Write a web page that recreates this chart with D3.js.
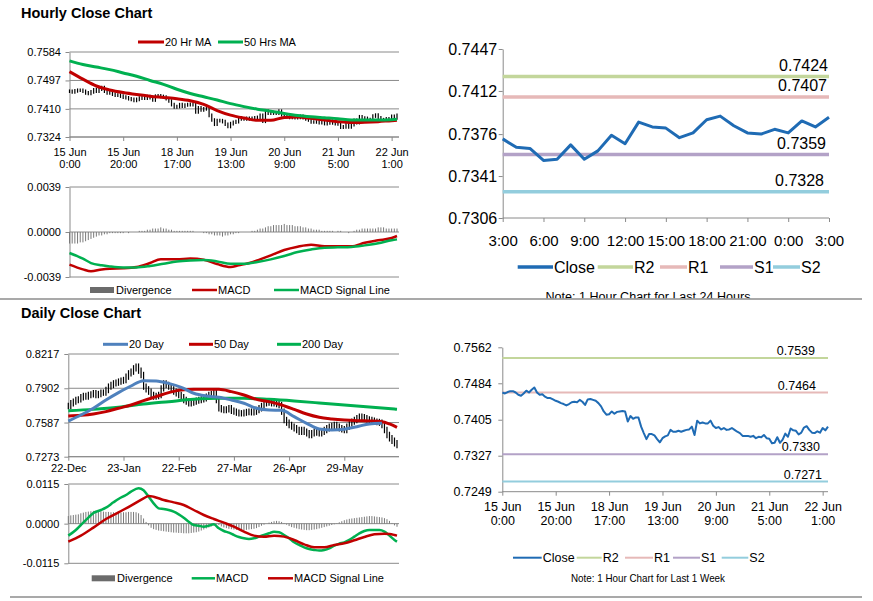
<!DOCTYPE html>
<html><head><meta charset="utf-8">
<script src="https://cdn.jsdelivr.net/npm/d3@7"></script>
<style>
body{margin:0;background:#fff;}
svg{display:block;}
</style></head><body>
<svg id="c" width="873" height="601"></svg>
<script>
// ================= DATA =================
// Hourly (15 Jun 0:00 .. 22 Jun 3:00), one value per hour
const hourTickIdx = [0,20,40,60,80,100,120];
const hourTickLabels = ["15 Jun|0:00","15 Jun|20:00","18 Jun|17:00","19 Jun|13:00","20 Jun|9:00","21 Jun|5:00","22 Jun|1:00"];
const hourPriceTicks = [0.7324,0.7410,0.7497,0.7584];
const hourMacdTicks = [-0.0039,0,0.0039];

const hourlyClose = [
 0.7464,0.7462,0.7465,0.7467,0.7467,0.7464,0.7459,0.7457,0.7462,0.7468,
 0.7464,0.7470,0.7475,0.7464,0.7459,0.7460,0.7455,0.7452,0.7452,0.7449,
 0.7446,0.7444,0.7441,0.7439,0.7436,0.7439,0.7443,0.7444,0.7443,0.7448,
 0.7444,0.7437,0.7449,0.7450,0.7448,0.7446,0.7441,0.7434,0.7423,0.7416,
 0.7417,0.7423,0.7418,0.7422,0.7423,0.7424,0.7423,0.7401,0.7413,0.7407,
 0.7410,0.7410,0.7390,0.7376,0.7363,0.7374,0.7374,0.7371,0.7363,0.7356,
 0.7365,0.7369,0.7371,
 0.7383,0.7379,0.7379,0.7381,0.7379,0.7381,0.7383,0.7384,0.7390,0.7372,
 0.7403,0.7397,0.7399,0.7397,0.7397,0.7403,0.7392,0.7387,0.7389,0.7384,
 0.7387,0.7383,0.7384,0.7387,0.7383,0.7379,0.7376,0.7370,0.7370,0.7370,
 0.7368,0.7370,0.7365,0.7368,0.7367,
 0.7372,0.7365,0.7364,0.7354,0.7355,0.7367,0.7355,0.7362,0.7375,0.7368,
 0.7386,0.7382,0.7381,0.7373,0.7377,0.7388,0.7391,0.7383,0.7377,0.7376,
 0.7380,0.7377,0.7387,0.7382,0.7390
];

const maHourIdx = [0,5,10,15,20,25,30,35,40,45,50,55,60,65,70,75,80,85,90,95,100,105,110,115,120,122];
const ma20Hour = [0.7524,0.7501,0.7480,0.7468,0.7460,0.7454,0.7449,0.7445,0.7441,0.7435,0.7424,0.7405,0.7391,0.7382,0.7375,0.7375,0.7384,0.7385,0.7381,0.7376,0.7371,0.7368,0.7369,0.7371,0.7374,0.7375];
const ma50Hour = [0.7557,0.7546,0.7538,0.7530,0.7520,0.7510,0.7497,0.7485,0.7470,0.7457,0.7447,0.7437,0.7426,0.7417,0.7409,0.7403,0.7396,0.7390,0.7386,0.7383,0.7380,0.7376,0.7376,0.7376,0.7377,0.7378];

const macdHourIdx = [0,5,8,12,15,20,25,30,34,40,45,50,55,60,63,67,71,75,80,85,90,95,100,105,110,115,120,122];
const macdHour = [-0.00283,-0.00324,-0.00341,-0.00324,-0.00318,-0.00315,-0.00304,-0.00269,-0.00237,-0.00237,-0.00229,-0.00240,-0.00278,-0.00304,-0.00289,-0.00269,-0.00237,-0.00203,-0.00156,-0.00127,-0.00110,-0.00124,-0.00124,-0.00124,-0.00093,-0.00072,-0.00052,-0.00035];
const signalHourIdx = [0,5,8,12,15,20,25,30,35,40,45,50,55,60,65,70,75,80,85,90,95,100,105,110,115,120,122];
const signalHour = [-0.00182,-0.00231,-0.00269,-0.00289,-0.00298,-0.00307,-0.00307,-0.00295,-0.00275,-0.00255,-0.00246,-0.00243,-0.00255,-0.00275,-0.00275,-0.00260,-0.00237,-0.00208,-0.00174,-0.00151,-0.00136,-0.00133,-0.00130,-0.00116,-0.00098,-0.00072,-0.00064];
// divergence, in units of 0.0001
const divHour = [
 -10,-10,-10,-10,-9,-9,-8,-7,-6,-5,
 -4,-3,-3,-2,-2,-1,-1,-1,-1,-1,
 -1,0,-1,0,0,0,1,1,1,2,
 2,3,3,3,4,3,3,2,2,1,
 1,1,1,1,1,1,1,0,0,0,
 -1,-1,-2,-2,-3,-3,-3,-4,-3,-3,
 -2,-2,-1,-1,0,0,0,0,1,1,
 2,3,3,4,5,5,6,6,6,6,
 7,6,6,6,5,5,5,4,4,3,
 3,2,2,2,1,1,1,1,1,0,
 1,1,0,0,-1,0,1,2,2,3,
 3,3,3,3,3,4,4,4,3,3,
 3,3,3
];

// Last 24 hours (21 Jun 3:00 .. 22 Jun 3:00) = last 25 hourly closes
const last24Start = 98;
const last24Labels = ["3:00","6:00","9:00","12:00","15:00","18:00","21:00","0:00","3:00"];
const last24Ticks = [0.7306,0.7341,0.7376,0.7412,0.7447];
const levelNames = ["R2","R1","S1","S2"];
const levels24 = [0.7424,0.7407,0.7359,0.7328];
const weekTicks = [0.7249,0.7327,0.7405,0.7484,0.7562];
const levelsWeek = [0.7539,0.7464,0.7330,0.7271];

// Daily (22 Dec .. 22 Jun), one value per trading day
const dayTickIdx = [0,22,44,66,88,110];
const dayTickLabels = ["22-Dec","23-Jan","22-Feb","27-Mar","26-Apr","29-May"];
const dayPriceTicks = [0.7273,0.7587,0.7902,0.8217];
const dayMacdTicks = [-0.0115,0,0.0115];
const dailyClose = [
 0.7739,0.7764,0.7779,0.7794,0.7800,0.7819,0.7831,0.7825,0.7840,0.7846,
 0.7856,0.7840,0.7849,0.7862,0.7862,0.7886,0.7917,0.7932,0.7947,0.7954,
 0.7963,0.7972,0.7978,0.8009,0.8039,0.8055,0.8085,0.8101,0.8064,0.8024,
 0.7917,0.7892,0.7871,0.7840,0.7825,0.7831,0.7840,0.7901,0.7947,0.7932,
 0.7917,0.7892,0.7871,0.7856,0.7840,0.7819,0.7794,0.7779,0.7764,0.7770,
 0.7779,0.7788,0.7794,0.7800,0.7810,0.7825,0.7840,0.7849,0.7862,0.7794,
 0.7718,0.7708,0.7702,0.7708,0.7718,0.7696,0.7687,0.7678,0.7672,0.7672,
 0.7678,0.7684,0.7687,0.7681,0.7687,0.7702,0.7718,0.7739,0.7764,0.7770,
 0.7770,0.7764,0.7770,0.7757,0.7748,0.7687,0.7610,0.7586,0.7564,0.7549,
 0.7534,0.7518,0.7503,0.7518,0.7503,0.7488,0.7473,0.7488,0.7503,0.7494,
 0.7488,0.7503,0.7518,0.7534,0.7549,0.7555,0.7564,0.7549,0.7534,0.7525,
 0.7518,0.7549,0.7580,0.7595,0.7610,0.7626,0.7641,0.7635,0.7626,0.7616,
 0.7610,0.7604,0.7595,0.7592,0.7586,0.7564,0.7518,0.7473,0.7442,0.7420,
 0.7396,0.7381
];
const ma20DayIdx = [0,5,10,15,20,25,30,35,40,45,50,55,60,65,70,75,80,85,90,95,100,105,110,115,120,125];
const ma20Day = [0.7601,0.7656,0.7718,0.7794,0.7862,0.7923,0.7972,0.7969,0.7947,0.7911,0.7856,0.7831,0.7819,0.7794,0.7764,0.7718,0.7702,0.7699,0.7641,0.7580,0.7528,0.7518,0.7525,0.7549,0.7574,0.7580];
const ma50DayIdx = [0,5,10,15,20,25,30,35,40,45,50,55,60,65,70,75,80,85,90,95,100,105,110,115,120,125,128,131];
const ma50Day = [0.7647,0.7653,0.7665,0.7687,0.7718,0.7748,0.7788,0.7825,0.7862,0.7886,0.7892,0.7892,0.7892,0.7871,0.7840,0.7800,0.7779,0.7748,0.7708,0.7665,0.7635,0.7620,0.7610,0.7604,0.7601,0.7595,0.7574,0.7543];
const ma200DayIdx = [0,10,20,30,40,50,60,70,80,90,100,110,120,130,131];
const ma200Day = [0.7696,0.7708,0.7727,0.7757,0.7779,0.7800,0.7810,0.7810,0.7800,0.7785,0.7767,0.7748,0.7730,0.7711,0.7709];

const macdDayIdx = [0,3,5,8,10,13,15,18,20,23,25,28,30,32,34,36,38,40,42,44,46,48,50,52,54,56,58,60,62,64,66,68,70,72,74,76,78,80,82,84,86,88,90,92,94,96,98,100,102,104,106,108,110,112,114,116,118,120,122,124,126,128,130,131];
const macdDay = [-0.00348,-0.00184,-0.00039,0.00174,0.00309,0.00396,0.00464,0.00618,0.00715,0.00831,0.00927,0.01024,
 0.00966,0.00782,0.00589,0.00444,0.00425,0.00396,0.00348,0.00270,0.00174,0.00058,
 -0.00039,-0.00058,-0.00087,-0.00058,-0.00019,-0.00135,-0.00213,-0.00261,-0.00328,-0.00386,
 -0.00425,-0.00444,-0.00425,-0.00377,-0.00328,-0.00280,-0.00232,-0.00251,-0.00328,-0.00425,
 -0.00541,-0.00618,-0.00686,-0.00734,-0.00763,-0.00782,-0.00763,-0.00715,-0.00638,-0.00580,
 -0.00541,-0.00473,-0.00377,-0.00280,-0.00213,-0.00184,-0.00184,-0.00184,-0.00232,-0.00348,
 -0.00473,-0.00522];
const signalDayIdx = [0,5,10,15,20,25,30,32,34,38,42,46,50,54,58,62,66,70,74,78,82,86,90,94,98,102,106,110,114,118,122,126,128,130,131];
const signalDay = [-0.00522,-0.00348,-0.00116,0.00135,0.00328,0.00522,0.00734,0.00802,0.00782,0.00686,0.00618,0.00541,0.00396,0.00251,0.00135,0.00029,-0.00087,-0.00232,-0.00348,-0.00377,-0.00348,-0.00377,-0.00473,-0.00599,-0.00686,-0.00686,-0.00618,-0.00570,-0.00483,-0.00386,-0.00309,-0.00290,-0.00300,-0.00330,-0.00348];
// divergence, in units of 0.0001
const divDay = [
 22,24,25,26,27,30,
 32,34,35,36,37,37,37,36,
 35,34,34,33,33,32,32,32,33,33,34,
 34,34,33,30,25,15,
 5,-5,-12,-16,-18,-20,
 -21,-22,-23,-24,-25,-26,-26,-27,-27,-28,-28,-28,-27,-26,-25,-23,-20,
 -17,-14,-11,-8,-5,-3,-4,-8,
 -11,-13,-15,-16,-17,
 -18,-18,-19,-19,-18,-17,-16,-15,-13,-10,-6,-3,0,
 3,5,7,8,7,5,2,-3,-7,
 -10,-12,-14,-16,-17,-18,-19,-19,-18,-17,-16,-14,-12,-10,-8,-6,
 -4,-2,1,4,
 7,10,12,14,15,16,17,18,19,20,21,22,22,21,20,19,18,16,13,
 8,2,-5,-9
];

// ================= STYLE =================
const FONT = '"Liberation Sans", Arial, sans-serif';
const GRID = "#8a8a8a";
const RED = "#C00000", GREEN = "#00B050", BLUE = "#4F81BD", CLOSE = "#1F6BB4";
const levelColors = ["#C3D69B","#E6B9B8","#B3A2C7","#93CDDD"];
const svg = d3.select("#c");

function yAxis(scale, ticks, xL, xR, o) {
  if (o.grid) svg.append("g").selectAll("line").data(ticks).join("line")
    .attr("x1", xL).attr("x2", xR).attr("y1", d => scale(d)).attr("y2", d => scale(d))
    .attr("stroke", GRID).attr("stroke-width", 1);
  const g = svg.append("g").attr("transform", `translate(${xL},0)`)
    .call(d3.axisLeft(scale).tickValues(ticks).tickFormat(d => d.toFixed(4)).tickSize(4).tickSizeOuter(0).tickPadding(o.pad));
  g.attr("font-size", o.font).attr("font-family", FONT);
  g.select(".domain").attr("stroke", GRID);
  g.selectAll(".tick line").attr("stroke", GRID);
  g.selectAll(".tick text").attr("fill", "#000");
}
function xAxis(scale, idx, labels, y, xL, xR, o) {
  svg.append("line").attr("x1", xL).attr("x2", xR).attr("y1", y).attr("y2", y).attr("stroke", GRID);
  const g = svg.append("g").attr("transform", `translate(0,${y})`)
    .call(d3.axisBottom(scale).tickValues(idx).tickFormat((d, i) => labels[i]).tickSize(4).tickSizeOuter(0).tickPadding(o.pad));
  g.attr("font-size", o.font).attr("font-family", FONT);
  g.select(".domain").remove();
  g.selectAll(".tick line").attr("stroke", GRID);
  g.selectAll(".tick text").attr("fill", "#000").each(function (d, i) {
    const parts = labels[i].split("|");
    if (parts.length > 1) {
      const t = d3.select(this); t.text(null); t.attr("dy", null);
      parts.forEach((p, k) => t.append("tspan").attr("x", 0).attr("dy", k ? o.lh + "em" : "0.71em").text(p));
    }
  });
}
function bars(data, x, y, ext, w) {
  svg.append("g").selectAll("line").data(data).join("line")
    .attr("x1", (d, i) => x(i)).attr("x2", (d, i) => x(i))
    .attr("y1", (d, i) => y(Math.max(d, i ? data[i - 1] : d)) - ext)
    .attr("y2", (d, i) => y(Math.min(d, i ? data[i - 1] : d)) + ext)
    .attr("stroke", "#000").attr("stroke-width", w);
}
function divBars(data, x, y, w) {
  svg.append("g").selectAll("line").data(data).join("line")
    .attr("x1", (d, i) => x(i)).attr("x2", (d, i) => x(i))
    .attr("y1", y(0)).attr("y2", d => y(d * 1e-4))
    .attr("stroke", "#7a7a7a").attr("stroke-width", w);
}
function series(idx, vals, x, y, color, w, curve) {
  const pts = idx.map((i, k) => [x(i), y(vals[k])]);
  svg.append("path").attr("d", d3.line().curve(curve || d3.curveMonotoneX)(pts))
    .attr("fill", "none").attr("stroke", color).attr("stroke-width", w)
    .attr("stroke-linejoin", "round");
}
function legLine(x1, x2, y, color, w, label, font) {
  svg.append("line").attr("x1", x1).attr("x2", x2).attr("y1", y).attr("y2", y).attr("stroke", color).attr("stroke-width", w);
  svg.append("text").attr("x", x2 + 1).attr("y", y).attr("dy", "0.35em").attr("font-size", font)
    .attr("font-family", FONT).attr("fill", "#000").text(label);
}
function legBox(x1, x2, y, label, font) {
  svg.append("rect").attr("x", x1).attr("y", y - 3).attr("width", x2 - x1).attr("height", 6).attr("fill", "#6b6b6b");
  svg.append("text").attr("x", x2 + 2).attr("y", y).attr("dy", "0.35em").attr("font-size", font)
    .attr("font-family", FONT).attr("fill", "#000").text(label);
}
function title(t, x, y) {
  svg.append("text").attr("x", x).attr("y", y).attr("font-size", 14.5).attr("font-weight", "bold")
    .attr("font-family", FONT).attr("fill", "#000").text(t);
}
const idxOf = a => a.map((d, i) => i);

// ================= A: Hourly close chart =================
title("Hourly Close Chart", 21, 17.5);
const xA = d3.scaleLinear().domain([0, 122]).range([69.5, 397]);
const yA = d3.scaleLinear().domain([0.7324, 0.7584]).range([137, 52]);
yAxis(yA, hourPriceTicks, 69.5, 399, {font: 11, pad: 4.5, grid: true});
xAxis(xA, hourTickIdx, hourTickLabels, 137, 69.5, 399, {font: 11, pad: 7, lh: 1.12});
bars(hourlyClose, xA, yA, 1.8, 1.2);
series(maHourIdx, ma20Hour, xA, yA, RED, 3);
series(maHourIdx, ma50Hour, xA, yA, GREEN, 3);
legLine(138, 164, 42, RED, 3, "20 Hr MA", 11);
legLine(218, 243, 42, GREEN, 3, "50 Hrs MA", 11);

// ================= B: Hourly MACD =================
const yB = d3.scaleLinear().domain([-0.0039, 0.0039]).range([277, 187]);
yAxis(yB, hourMacdTicks, 69.5, 399, {font: 11, pad: 4.5, grid: true});
divBars(divHour, xA, yB, 1);
series(macdHourIdx, macdHour, xA, yB, RED, 2.5);
series(signalHourIdx, signalHour, xA, yB, GREEN, 2.5);
legBox(90, 114, 290, "Divergence", 11);
legLine(192, 217, 290, RED, 2.5, "MACD", 11);
legLine(274, 299, 290, GREEN, 2.5, "MACD Signal Line", 11);

// ================= C: Last 24 hours =================
const last24 = hourlyClose.slice(last24Start);
const xC = d3.scaleLinear().domain([0, last24.length - 1]).range([502.7, 829]);
const yC = d3.scaleLinear().domain([0.7306, 0.7447]).range([218, 49]);
yAxis(yC, last24Ticks, 502.7, 829, {font: 16, pad: 1.5, grid: false});
xAxis(xC, d3.range(0, last24.length, 3), last24Labels, 218, 502.7, 829, {font: 15, pad: 13});
const labRightC = [828, 827, 826, 824];
levels24.forEach((v, k) => {
  svg.append("line").attr("x1", 502.7).attr("x2", 829).attr("y1", yC(v)).attr("y2", yC(v))
    .attr("stroke", levelColors[k]).attr("stroke-width", 3.5);
});
series(idxOf(last24), last24, xC, yC, CLOSE, 3, d3.curveLinear);
levels24.forEach((v, k) => {
  svg.append("text").attr("x", labRightC[k]).attr("y", yC(v) - 5.5).attr("text-anchor", "end")
    .attr("font-size", 16).attr("font-family", FONT).attr("fill", "#000").text(v.toFixed(4));
});
legLine(517.7, 553, 267, CLOSE, 3.5, "Close", 16);
const legC = [[597.7, 633], [660, 687], [720, 753], [773, 800]];
levelNames.forEach((n, k) => legLine(legC[k][0], legC[k][1], 267, levelColors[k], 3.5, n, 16));
svg.append("defs").append("clipPath").attr("id", "clipNote").append("rect")
  .attr("x", 420).attr("y", 280).attr("width", 450).attr("height", 18.5);
svg.append("text").attr("x", 648).attr("y", 300.5).attr("text-anchor", "middle").attr("font-size", 12.5)
  .attr("font-family", FONT).attr("fill", "#000").attr("clip-path", "url(#clipNote)")
  .attr("textLength", 205).attr("lengthAdjust", "spacingAndGlyphs")
  .text("Note: 1 Hour Chart for Last 24 Hours");

// separators
svg.append("line").attr("x1", 0).attr("x2", 862).attr("y1", 299).attr("y2", 299).attr("stroke", "#8c8c8c").attr("stroke-width", 1.3);
svg.append("line").attr("x1", 10).attr("x2", 862).attr("y1", 597).attr("y2", 597).attr("stroke", "#8c8c8c").attr("stroke-width", 1.3);

// ================= D: Daily close chart =================
title("Daily Close Chart", 21, 317.5);
const xD = d3.scaleLinear().domain([0, dailyClose.length - 1]).range([68.3, 397]);
const yD = d3.scaleLinear().domain([0.7273, 0.8217]).range([456.7, 354]);
yAxis(yD, dayPriceTicks, 68.3, 399, {font: 11, pad: 5, grid: true});
xAxis(xD, dayTickIdx, dayTickLabels, 456.7, 68.3, 399, {font: 11, pad: 3.8});
bars(dailyClose, xD, yD, 3.2, 1.2);
series(ma200DayIdx, ma200Day, xD, yD, GREEN, 3);
series(ma50DayIdx, ma50Day, xD, yD, RED, 3);
series(ma20DayIdx, ma20Day, xD, yD, BLUE, 3);
legLine(103, 128, 344.3, BLUE, 3, "20 Day", 11);
legLine(189, 213, 344.3, RED, 3, "50 Day", 11);
legLine(277, 301, 344.3, GREEN, 3, "200 Day", 11);

// ================= E: Daily MACD =================
const yE = d3.scaleLinear().domain([-0.0115, 0.0115]).range([563.3, 484]);
yAxis(yE, dayMacdTicks, 68.3, 399, {font: 11, pad: 5, grid: true});
divBars(divDay, xD, yE, 1);
series(macdDayIdx, macdDay, xD, yE, GREEN, 2.5);
series(signalDayIdx, signalDay, xD, yE, RED, 2.5);
legBox(91.7, 115, 578.3, "Divergence", 11);
legLine(191.7, 215, 578.3, GREEN, 2.5, "MACD", 11);
legLine(268, 293, 578.3, RED, 2.5, "MACD Signal Line", 11);

// ================= F: Last 1 week =================
const xF = d3.scaleLinear().domain([0, hourlyClose.length - 1]).range([502.3, 828]);
const yF = d3.scaleLinear().domain([0.7249, 0.7562]).range([491.7, 347.3]);
yAxis(yF, weekTicks, 502.3, 828, {font: 12.5, pad: 6.5, grid: false});
xAxis(xF, hourTickIdx, hourTickLabels, 491.7, 502.3, 828, {font: 12.5, pad: 6.6, lh: 1.12});
levelsWeek.forEach((v, k) => {
  svg.append("line").attr("x1", 502.3).attr("x2", 828).attr("y1", yF(v)).attr("y2", yF(v))
    .attr("stroke", levelColors[k]).attr("stroke-width", 2);
});
series(idxOf(hourlyClose), hourlyClose, xF, yF, CLOSE, 2, d3.curveLinear);
const labRightF = [815, 816, 820, 822];
levelsWeek.forEach((v, k) => {
  svg.append("text").attr("x", labRightF[k]).attr("y", yF(v) - 3).attr("text-anchor", "end")
    .attr("font-size", 12.5).attr("font-family", FONT).attr("fill", "#000").text(v.toFixed(4));
});
legLine(513, 541.7, 557.7, CLOSE, 2, "Close", 12.5);
const legF = [[576.7, 601.7], [625, 653], [673, 700], [721.7, 748.3]];
levelNames.forEach((n, k) => legLine(legF[k][0], legF[k][1], 557.7, levelColors[k], 2, n, 12.5));
svg.append("text").attr("x", 648).attr("y", 581.8).attr("text-anchor", "middle").attr("font-size", 10.5)
  .attr("font-family", FONT).attr("fill", "#000")
  .attr("textLength", 154).attr("lengthAdjust", "spacingAndGlyphs")
  .text("Note: 1 Hour Chart for Last 1 Week");
</script>
</body></html>
